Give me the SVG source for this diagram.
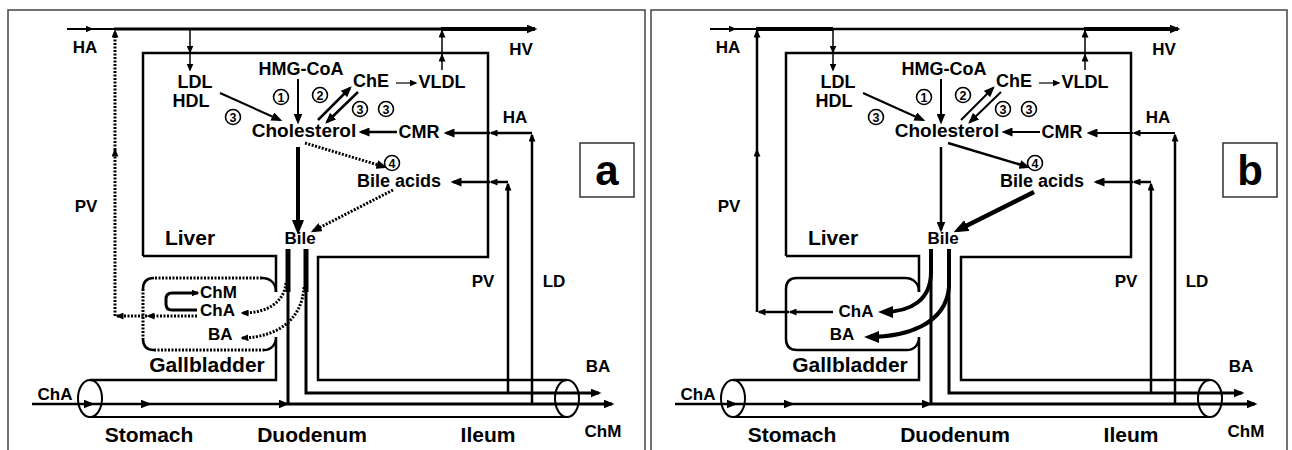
<svg xmlns="http://www.w3.org/2000/svg" width="1292" height="450" viewBox="0 0 1292 450">
<style>
.t{font-family:"Liberation Sans",Arial,Helvetica,sans-serif;font-weight:bold;fill:#000}
.f17{font-size:17px}.f18{font-size:18px}.f19{font-size:19px}.f21{font-size:21px}.f12{font-size:12.5px}
.ln{fill:none;stroke:#000;stroke-linejoin:miter}
.dot{stroke-dasharray:2 1.5}
.frame{fill:none;stroke:#444;stroke-width:1.5}
.circ{fill:#fff;stroke:#000;stroke-width:1.6}
</style>
<defs>
<marker id="s" markerUnits="userSpaceOnUse" viewBox="0 0 8 7" markerWidth="8" markerHeight="7" refX="6.5" refY="3.5" orient="auto"><path d="M0,0L8,3.5L0,7z"/></marker>
<marker id="m" markerUnits="userSpaceOnUse" viewBox="0 0 11 9" markerWidth="11" markerHeight="9" refX="8.5" refY="4.5" orient="auto"><path d="M0,0L11,4.5L0,9z"/></marker>
<marker id="l" markerUnits="userSpaceOnUse" viewBox="0 0 15 12" markerWidth="15" markerHeight="12" refX="10" refY="6" orient="auto"><path d="M0,0L15,6L0,12z"/></marker>
</defs>

<!-- ================= PANEL A ================= -->
<g id="panel-a">
<rect class="frame" x="8" y="10" width="637" height="450"/>
<g id="label-a"><rect x="580" y="143" width="54" height="54" fill="none" stroke="#333" stroke-width="1.5"/><text class="t" x="607" y="185" font-size="42" text-anchor="middle">a</text></g>

<g id="a-liver">
<path class="ln" stroke-width="2.5" d="M143,256L143,53L488,53L488,257L318,257L318,380L567,380"/>
<path class="ln" stroke-width="2.5" d="M143,256L276,256L276,292"/>
<text class="t f21" x="190" y="245" text-anchor="middle">Liver</text>
</g>
<g id="a-gallbladder">
<path class="ln dot" stroke-width="3" d="M262,278L154,278M143,289L143,339M154,350L264,350"/>
<path class="ln" stroke-width="2.5" d="M276,292C276,284 271,278 262,278M154,278Q143,278 143,289M143,339Q143,350 154,350M264,350C271,350 276,345 276,337L276,380L90,380"/>
<text class="t f21" x="207" y="372" text-anchor="middle">Gallbladder</text>
<text class="t f17" x="200" y="298">ChM</text>
<text class="t f17" x="200" y="316">ChA</text>
<text class="t f17" x="208" y="340">BA</text>
</g>
<g id="a-intestine">
<ellipse class="ln" stroke-width="2" cx="90" cy="398.5" rx="12" ry="18.5"/>
<ellipse class="ln" stroke-width="2" cx="567" cy="398.5" rx="12" ry="18.5"/>
<path class="ln" stroke-width="2.2" d="M90,417L567,417"/>
<text class="t f21" x="149" y="442" text-anchor="middle">Stomach</text>
<text class="t f21" x="312" y="442" text-anchor="middle">Duodenum</text>
<text class="t f21" x="488" y="442" text-anchor="middle">Ileum</text>
</g>
<g id="a-texts">
<text class="t f17" x="85" y="53" text-anchor="middle">HA</text>
<text class="t f17" x="521" y="55" text-anchor="middle">HV</text>
<text class="t f17" x="86" y="212" text-anchor="middle">PV</text>
<text class="t f18" x="195" y="88" text-anchor="middle">LDL</text>
<text class="t f18" x="191" y="107" text-anchor="middle">HDL</text>
<text class="t f18" x="301" y="75" text-anchor="middle">HMG-CoA</text>
<text class="t f18" x="371" y="87" text-anchor="middle">ChE</text>
<text class="t f18" x="442" y="88" text-anchor="middle">VLDL</text>
<text class="t f19" x="304" y="137" text-anchor="middle">Cholesterol</text>
<text class="t f18" x="419" y="138" text-anchor="middle">CMR</text>
<text class="t f18" x="399" y="187" text-anchor="middle">Bile acids</text>
<text class="t f17" x="300" y="244" text-anchor="middle">Bile</text>
<text class="t f17" x="515" y="123" text-anchor="middle">HA</text>
<text class="t f17" x="483" y="287" text-anchor="middle">PV</text>
<text class="t f17" x="554" y="287" text-anchor="middle">LD</text>
<text class="t f17" x="598" y="372" text-anchor="middle">BA</text>
<text class="t f17" x="603" y="437" text-anchor="middle">ChM</text>
<text class="t f17" x="55" y="400" text-anchor="middle">ChA</text>
</g>
<g id="a-steps">
<circle class="circ" cx="281" cy="97" r="7.5"/><text class="t f12" x="281" y="101.5" text-anchor="middle">1</text>
<circle class="circ" cx="320" cy="95" r="7.5"/><text class="t f12" x="320" y="99.5" text-anchor="middle">2</text>
<circle class="circ" cx="233" cy="117" r="7.5"/><text class="t f12" x="233" y="121.5" text-anchor="middle">3</text>
<circle class="circ" cx="360" cy="109" r="7.5"/><text class="t f12" x="360" y="113.5" text-anchor="middle">3</text>
<circle class="circ" cx="386" cy="109" r="7.5"/><text class="t f12" x="386" y="113.5" text-anchor="middle">3</text>
<circle class="circ" cx="392" cy="163" r="7.5"/><text class="t f12" x="392" y="167.5" text-anchor="middle">4</text>
</g>
<g id="a-connectors">
<path class="ln" stroke-width="2" d="M67,29L92,29" marker-end="url(#s)"/>
<path class="ln" stroke-width="2" d="M90,29L115,29"/>
<path class="ln" stroke-width="3" d="M114,29L442,29"/>
<path class="ln" stroke-width="4" d="M441,29L535,29" marker-end="url(#m)"/>
<path class="ln" stroke-width="1.5" d="M190,29L190,52" marker-end="url(#s)"/>
<path class="ln" stroke-width="1.5" d="M190,52L190,70" marker-end="url(#s)"/>
<path class="ln" stroke-width="1.5" d="M442,70L442,55" marker-end="url(#s)"/>
<path class="ln" stroke-width="1.5" d="M442,55L442,31" marker-end="url(#s)"/>
<path class="ln dot" stroke-width="3" d="M197,316L148,316" marker-end="url(#s)"/>
<path class="ln dot" stroke-width="3" d="M147,316L117,316" marker-end="url(#s)"/>
<path class="ln dot" stroke-width="3" d="M115,316L115,150" marker-end="url(#s)"/>
<path class="ln dot" stroke-width="3" d="M115,150L115,31" marker-end="url(#s)"/>
<path class="ln" stroke-width="2" d="M298,79L298,122" marker-end="url(#m)"/>
<path class="ln" stroke-width="2" d="M220,93L280,120" marker-end="url(#m)"/>
<path class="ln" stroke-width="2.5" d="M318,120L350,88" marker-end="url(#m)"/>
<path class="ln" stroke-width="2.5" d="M358,92L327,122" marker-end="url(#m)"/>
<path class="ln" stroke-width="1.2" d="M396,83L416,83" marker-end="url(#s)"/>
<path class="ln" stroke-width="2.5" d="M397,132L361,132" marker-end="url(#m)"/>
<path class="ln dot" stroke-width="3" d="M305,143L385,167" marker-end="url(#m)"/>
<path class="ln" stroke-width="4" d="M298,147L298,230" marker-end="url(#l)"/>
<path class="ln dot" stroke-width="3" d="M393,190L313,231" marker-end="url(#m)"/>
<path class="ln" stroke-width="2.5" d="M532,404L532,135" marker-end="url(#s)"/>
<path class="ln" stroke-width="2.5" d="M532,133L491,133" marker-end="url(#s)"/>
<path class="ln" stroke-width="2.5" d="M490,133L446,133" marker-end="url(#m)"/>
<path class="ln" stroke-width="2.5" d="M508,393L508,184" marker-end="url(#s)"/>
<path class="ln" stroke-width="2.5" d="M508,182L491,182" marker-end="url(#s)"/>
<path class="ln" stroke-width="2.5" d="M490,182L453,182" marker-end="url(#m)"/>
<path class="ln" stroke-width="2.5" d="M32,404L92,404" marker-end="url(#m)"/>
<path class="ln" stroke-width="2.5" d="M91,404L149,404" marker-end="url(#m)"/>
<path class="ln" stroke-width="2.5" d="M148,404L287,404" marker-end="url(#m)"/>
<path class="ln" stroke-width="3" d="M288,249L288,404L612,404" marker-end="url(#m)"/>
<path class="ln" stroke-width="3" d="M306,249L306,393L599,393" marker-end="url(#m)"/>
<path class="ln" stroke-width="5" d="M288,249L288,292M306,249L306,292"/>
<path class="ln" stroke-width="3" d="M197,310L172,310Q166,310 166,304L166,299Q166,293 172,293L198,293" marker-end="url(#s)"/>
<path class="ln dot" stroke-width="3" d="M286,283C284,302 268,313 242,313" marker-end="url(#s)"/>
<path class="ln dot" stroke-width="3" d="M304,287C302,318 280,337 242,338" marker-end="url(#s)"/>
</g>
</g>

<!-- ================= PANEL B ================= -->
<g id="panel-b" transform="translate(643,0)">
<rect class="frame" x="8" y="10" width="636" height="450"/>
<g id="label-b"><rect x="580" y="143" width="54" height="54" fill="none" stroke="#333" stroke-width="1.5"/><text class="t" x="607" y="185" font-size="42" text-anchor="middle">b</text></g>

<g id="b-liver">
<path class="ln" stroke-width="2.5" d="M143,256L143,53L488,53L488,257L318,257L318,380L567,380"/>
<path class="ln" stroke-width="2.5" d="M143,256L276,256L276,292"/>
<text class="t f21" x="190" y="245" text-anchor="middle">Liver</text>
</g>
<g id="b-gallbladder">
<path class="ln" stroke-width="2.5" d="M276,292C276,284 271,278 262,278L154,278Q143,278 143,289L143,339Q143,350 154,350L264,350C271,350 276,345 276,337L276,380L90,380"/>
<text class="t f21" x="207" y="372" text-anchor="middle">Gallbladder</text>
<text class="t f17" x="213" y="317" text-anchor="middle">ChA</text>
<text class="t f17" x="199" y="340" text-anchor="middle">BA</text>
</g>
<g id="b-intestine">
<ellipse class="ln" stroke-width="2" cx="90" cy="398.5" rx="12" ry="18.5"/>
<ellipse class="ln" stroke-width="2" cx="567" cy="398.5" rx="12" ry="18.5"/>
<path class="ln" stroke-width="2.2" d="M90,417L567,417"/>
<text class="t f21" x="149" y="442" text-anchor="middle">Stomach</text>
<text class="t f21" x="312" y="442" text-anchor="middle">Duodenum</text>
<text class="t f21" x="488" y="442" text-anchor="middle">Ileum</text>
</g>
<g id="b-texts">
<text class="t f17" x="85" y="53" text-anchor="middle">HA</text>
<text class="t f17" x="521" y="55" text-anchor="middle">HV</text>
<text class="t f17" x="86" y="212" text-anchor="middle">PV</text>
<text class="t f18" x="195" y="88" text-anchor="middle">LDL</text>
<text class="t f18" x="191" y="107" text-anchor="middle">HDL</text>
<text class="t f18" x="301" y="75" text-anchor="middle">HMG-CoA</text>
<text class="t f18" x="371" y="87" text-anchor="middle">ChE</text>
<text class="t f18" x="442" y="88" text-anchor="middle">VLDL</text>
<text class="t f19" x="304" y="137" text-anchor="middle">Cholesterol</text>
<text class="t f18" x="419" y="138" text-anchor="middle">CMR</text>
<text class="t f18" x="399" y="187" text-anchor="middle">Bile acids</text>
<text class="t f17" x="300" y="244" text-anchor="middle">Bile</text>
<text class="t f17" x="515" y="123" text-anchor="middle">HA</text>
<text class="t f17" x="483" y="287" text-anchor="middle">PV</text>
<text class="t f17" x="554" y="287" text-anchor="middle">LD</text>
<text class="t f17" x="598" y="372" text-anchor="middle">BA</text>
<text class="t f17" x="603" y="437" text-anchor="middle">ChM</text>
<text class="t f17" x="55" y="400" text-anchor="middle">ChA</text>
</g>
<g id="b-steps">
<circle class="circ" cx="281" cy="97" r="7.5"/><text class="t f12" x="281" y="101.5" text-anchor="middle">1</text>
<circle class="circ" cx="320" cy="95" r="7.5"/><text class="t f12" x="320" y="99.5" text-anchor="middle">2</text>
<circle class="circ" cx="233" cy="117" r="7.5"/><text class="t f12" x="233" y="121.5" text-anchor="middle">3</text>
<circle class="circ" cx="360" cy="109" r="7.5"/><text class="t f12" x="360" y="113.5" text-anchor="middle">3</text>
<circle class="circ" cx="386" cy="109" r="7.5"/><text class="t f12" x="386" y="113.5" text-anchor="middle">3</text>
<circle class="circ" cx="392" cy="163" r="7.5"/><text class="t f12" x="392" y="167.5" text-anchor="middle">4</text>
</g>
<g id="b-connectors">
<path class="ln" stroke-width="2" d="M67,29L92,29" marker-end="url(#s)"/>
<path class="ln" stroke-width="2" d="M90,29L115,29"/>
<path class="ln" stroke-width="4" d="M113,29L190,29"/>
<path class="ln" stroke-width="2.5" d="M189,29L442,29"/>
<path class="ln" stroke-width="4" d="M441,29L535,29" marker-end="url(#m)"/>
<path class="ln" stroke-width="1.5" d="M190,29L190,52" marker-end="url(#s)"/>
<path class="ln" stroke-width="1.5" d="M190,52L190,70" marker-end="url(#s)"/>
<path class="ln" stroke-width="1.5" d="M442,70L442,55" marker-end="url(#s)"/>
<path class="ln" stroke-width="1.5" d="M442,55L442,31" marker-end="url(#s)"/>
<path class="ln" stroke-width="2.5" d="M190,312L147,312" marker-end="url(#s)"/>
<path class="ln" stroke-width="2.5" d="M146,312L116,312" marker-end="url(#s)"/>
<path class="ln" stroke-width="2.5" d="M114,312L114,150" marker-end="url(#s)"/>
<path class="ln" stroke-width="2.5" d="M114,150L114,31" marker-end="url(#s)"/>
<path class="ln" stroke-width="2" d="M298,79L298,122" marker-end="url(#m)"/>
<path class="ln" stroke-width="2" d="M220,93L280,120" marker-end="url(#m)"/>
<path class="ln" stroke-width="2" d="M318,120L350,88" marker-end="url(#m)"/>
<path class="ln" stroke-width="2" d="M358,92L327,122" marker-end="url(#m)"/>
<path class="ln" stroke-width="1.2" d="M396,83L416,83" marker-end="url(#s)"/>
<path class="ln" stroke-width="2" d="M397,132L361,132" marker-end="url(#m)"/>
<path class="ln" stroke-width="2.5" d="M305,143L385,167" marker-end="url(#m)"/>
<path class="ln" stroke-width="2.5" d="M298,147L298,230" marker-end="url(#m)"/>
<path class="ln" stroke-width="4.5" d="M391,192L315,230" marker-end="url(#l)"/>
<path class="ln" stroke-width="2.5" d="M532,404L532,135" marker-end="url(#s)"/>
<path class="ln" stroke-width="2" d="M532,133L491,133" marker-end="url(#s)"/>
<path class="ln" stroke-width="2" d="M490,133L446,133" marker-end="url(#m)"/>
<path class="ln" stroke-width="2.5" d="M508,393L508,184" marker-end="url(#s)"/>
<path class="ln" stroke-width="2.5" d="M508,182L491,182" marker-end="url(#s)"/>
<path class="ln" stroke-width="2.5" d="M490,182L453,182" marker-end="url(#m)"/>
<path class="ln" stroke-width="2.5" d="M32,404L92,404" marker-end="url(#m)"/>
<path class="ln" stroke-width="2.5" d="M91,404L149,404" marker-end="url(#m)"/>
<path class="ln" stroke-width="2.5" d="M148,404L287,404" marker-end="url(#m)"/>
<path class="ln" stroke-width="3" d="M288,249L288,404L612,404" marker-end="url(#m)"/>
<path class="ln" stroke-width="3" d="M306,249L306,393L599,393" marker-end="url(#m)"/>
<path class="ln" stroke-width="4" d="M288,249L288,272C288,300 268,312 240,312" marker-end="url(#l)"/>
<path class="ln" stroke-width="4" d="M306,249L306,287C303,325 262,337 226,337" marker-end="url(#l)"/>
</g>
</g>
</svg>
